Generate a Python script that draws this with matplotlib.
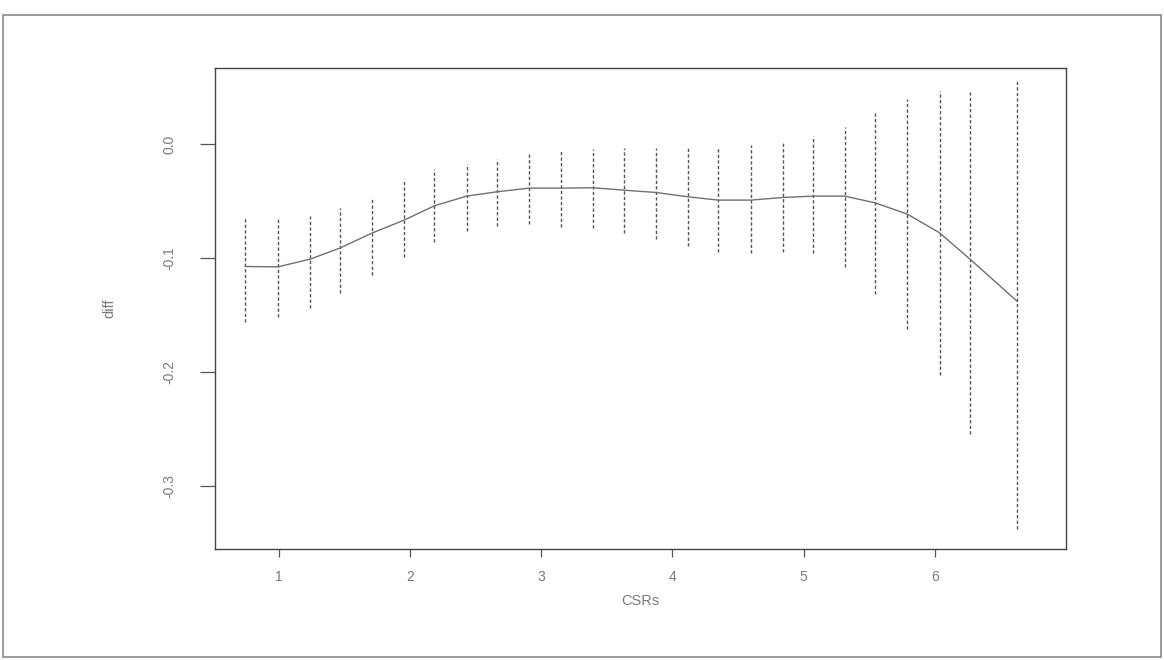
import matplotlib.pyplot as plt
from matplotlib.patches import Rectangle

plt.rcParams['font.family'] = ['Liberation Sans', 'DejaVu Sans']

# values
csrs = [0.746, 0.993, 1.239, 1.470, 1.709, 1.955, 2.187, 2.433, 2.664, 2.910,
        3.149, 3.396, 3.634, 3.873, 4.119, 4.351, 4.597, 4.843, 5.075, 5.313,
        5.545, 5.791, 6.037, 6.269, 6.627]

diff_fit = [-0.1073, -0.1076, -0.1009, -0.0910, -0.0781, -0.0667, -0.0541,
            -0.0456, -0.0418, -0.0386, -0.0386, -0.0383, -0.0404, -0.0424,
            -0.0462, -0.0491, -0.0491, -0.0468, -0.0456, -0.0456, -0.0515,
            -0.0614, -0.0778, -0.1009, -0.1377]

upper = [-0.0646, -0.0658, -0.0632, -0.0561, -0.0462, -0.0307, -0.0219,
         -0.0175, -0.0132, -0.0079, -0.0048, -0.0044, -0.0032, -0.0032,
         -0.0024, -0.0024, -0.0009, 0.0026, 0.0070, 0.0152, 0.0281, 0.0397,
         0.0465, 0.0459, 0.0568]

lower = [-0.1559, -0.1515, -0.1439, -0.1307, -0.1149, -0.0989, -0.0857,
         -0.0761, -0.0717, -0.0702, -0.0725, -0.0734, -0.0783, -0.0836,
         -0.0892, -0.0945, -0.0959, -0.0945, -0.0954, -0.1076, -0.1310,
         -0.1617, -0.2026, -0.2538, -0.3371]

xticks = [1, 2, 3, 4, 5, 6]
yticks = [0.0, -0.1, -0.2, -0.3]
ytick_labels = ['0.0', '-0.1', '-0.2', '-0.3']

fig = plt.figure(figsize=(11.64, 6.60), dpi=100)
ax = fig.add_axes([0.1847, 0.168, 0.7311, 0.729])

# dashed intervals
ax.vlines(csrs, lower, upper, colors='#555555', linewidth=1.0,
          linestyles=(0, (2.4, 1.6)))
# fitted curve
ax.plot(csrs, diff_fit, color='#707070', linewidth=1.0)

ax.set_xlim(0.515, 7.0)
ax.set_ylim(-0.355, 0.0667)

ax.set_xticks(xticks)
ax.set_yticks(yticks)
ax.set_yticklabels(ytick_labels, rotation=90, va='center')

for s in ax.spines.values():
    s.set_color('#444444')
    s.set_linewidth(1.0)

ax.tick_params(axis='x', direction='out', length=6, width=0.9,
               color='#555555', labelcolor='#7a7a7a', labelsize=10, pad=9)
ax.tick_params(axis='y', direction='out', length=11, width=0.9,
               color='#555555', labelcolor='#7a7a7a', labelsize=10, pad=17)

ax.set_xlabel('CSRs', color='#7a7a7a', fontsize=10.5, labelpad=7)
ax.set_ylabel('diff', color='#7a7a7a', fontsize=10.5, labelpad=33)

# page border from the scan
fig.patches.append(Rectangle((0.003, 0.005), 0.994, 0.973, transform=fig.transFigure,
                             fill=False, edgecolor='#8a8a8a', linewidth=1.2))

plt.savefig('out.png', dpi=100)
